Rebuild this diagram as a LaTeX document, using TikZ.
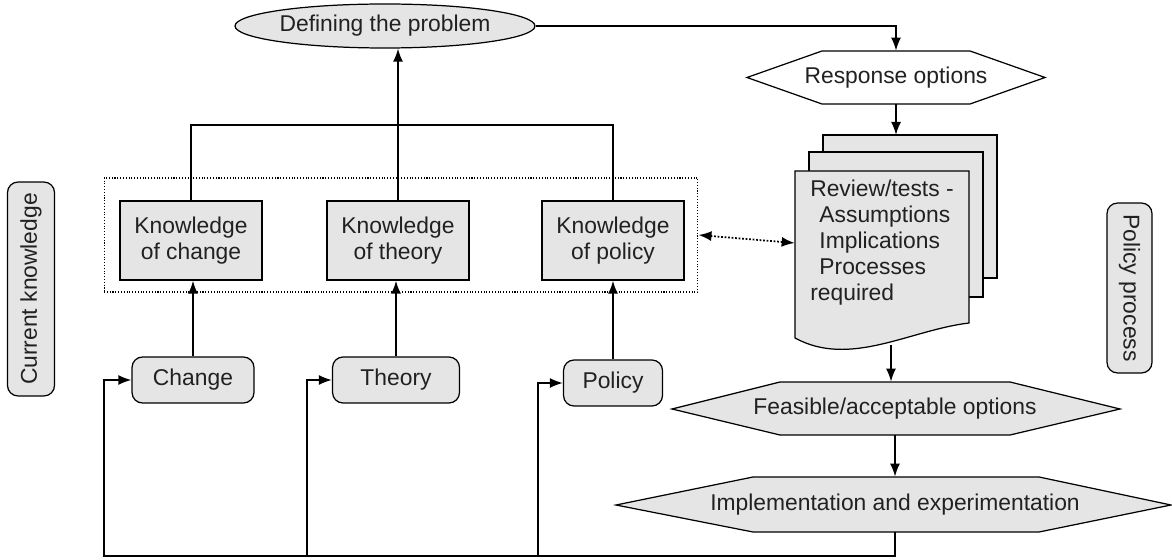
\documentclass[tikz,border=0pt]{standalone}
\usepackage{fontspec}
\setmainfont{Liberation Sans}
\usepackage{tikz}
\usetikzlibrary{shapes.geometric,arrows.meta}

\definecolor{boxgray}{gray}{0.9}
\definecolor{ink}{gray}{0.13}

\tikzset{
  >={Latex[length=2.6mm,width=2mm]},
  txt/.style={font=\fontsize{13}{14.8}\selectfont, text=ink, inner sep=0pt, align=center},
  kbox/.style={txt, draw, fill=boxgray, line width=0.8pt, minimum width=2.84cm, minimum height=1.58cm},
  rbox/.style={txt, draw, fill=boxgray, line width=0.7pt, rounded corners=6pt, minimum height=0.92cm},
  hexa/.style={draw, line width=0.7pt, line join=miter},
  conn/.style={line width=1pt, ->},
}

\begin{document}
\begin{tikzpicture}[x=0.02cm, y=-0.02cm]
\useasboundingbox (0,0) rectangle (1172,560);

\node[txt, ellipse, draw, fill=boxgray, line width=0.7pt, minimum width=6cm, minimum height=0.88cm] (prob) at (385,26) {Defining the problem};

\draw[hexa, fill=white] (747,77.5) -- (822,51) -- (970,51) -- (1045,77.5) -- (970,104) -- (822,104) -- cycle;
\node[txt, minimum width=5.96cm, minimum height=1.06cm] (resp) at (896,77.5) {Response options};

\draw[fill=boxgray, line width=0.7pt] (823,135) rectangle (997,278);
\draw[fill=boxgray, line width=0.7pt] (809,152) rectangle (983,297);
\draw[fill=boxgray, line width=0.7pt] (795,171) -- (969,171) -- (969,323) .. controls (910,330) and (850,368) .. (795,338) -- cycle;
\node[txt, align=left, minimum width=3.48cm] (rev) at (882,243) {Review/tests -\\\hspace*{0.4em}Assumptions\\\hspace*{0.4em}Implications\\\hspace*{0.4em}Processes\\required};
\coordinate (revtop) at (900,135);
\coordinate (revbot) at (891,345);

\draw[hexa, fill=boxgray] (672,409) -- (780,382) -- (1010,382) -- (1120,409) -- (1010,435) -- (780,435) -- cycle;
\node[txt, minimum width=8.96cm, minimum height=1.06cm] (feas) at (895,408.5) {Feasible/acceptable options};

\draw[hexa, fill=boxgray] (616,505) -- (753,477) -- (1039,477) -- (1171,505) -- (1039,532) -- (753,532) -- cycle;
\node[txt, minimum width=11.1cm, minimum height=1.1cm] (impl) at (895,504.5) {Implementation and experimentation};

\node[draw, densely dotted, line width=0.6pt, minimum width=11.88cm, minimum height=2.28cm, inner sep=0pt] (dotbox) at (401,235) {};

\node[kbox] (kchange) at (191,240.5) {Knowledge\\of change};
\node[kbox] (ktheory) at (398,240.5) {Knowledge\\of theory};
\node[kbox] (kpolicy) at (613,240.5) {Knowledge\\of policy};

\node[rbox, minimum width=2.44cm] (change) at (193,380) {Change};
\node[rbox, minimum width=2.54cm] (theory) at (396,380) {Theory};
\node[rbox, minimum width=1.98cm] (policy) at (613,383) {Policy};

\node[rbox, rotate=90, minimum width=4.28cm, minimum height=0.94cm] (curk) at (31,289) {Current knowledge};
\node[rbox, rotate=-90, minimum width=3.4cm, minimum height=0.9cm] (polp) at (1129.5,288) {Policy process};

\coordinate (join) at (398,125);
\draw[line width=1pt] (kchange.north) |- (join) -| (kpolicy.north);
\draw[conn] (ktheory.north) -- (ktheory.north |- prob.south);

\draw[conn] (change.north) -- (change.north |- kchange.south);
\draw[conn] (theory.north) -- (theory.north |- ktheory.south);
\draw[conn] (policy.north) -- (policy.north |- kpolicy.south);

\draw[conn] (prob.east) -| (resp.north);
\draw[conn] (resp.south) -- (resp.south |- revtop);
\draw[conn] (revbot) -- (revbot |- feas.north);
\draw[conn] (feas.south) -- (impl.north);
\draw[line width=1pt, densely dotted, <->] (dotbox.east) -- (rev.west);

\coordinate (loopC) at (104,556);
\coordinate (loopT) at (307,556);
\coordinate (loopP) at (538,556);
\draw[conn] (impl.south) |- (loopC) |- (change.west);
\draw[conn] (loopT) |- (theory.west);
\draw[conn] (loopP) |- (policy.west);
\end{tikzpicture}
\end{document}
